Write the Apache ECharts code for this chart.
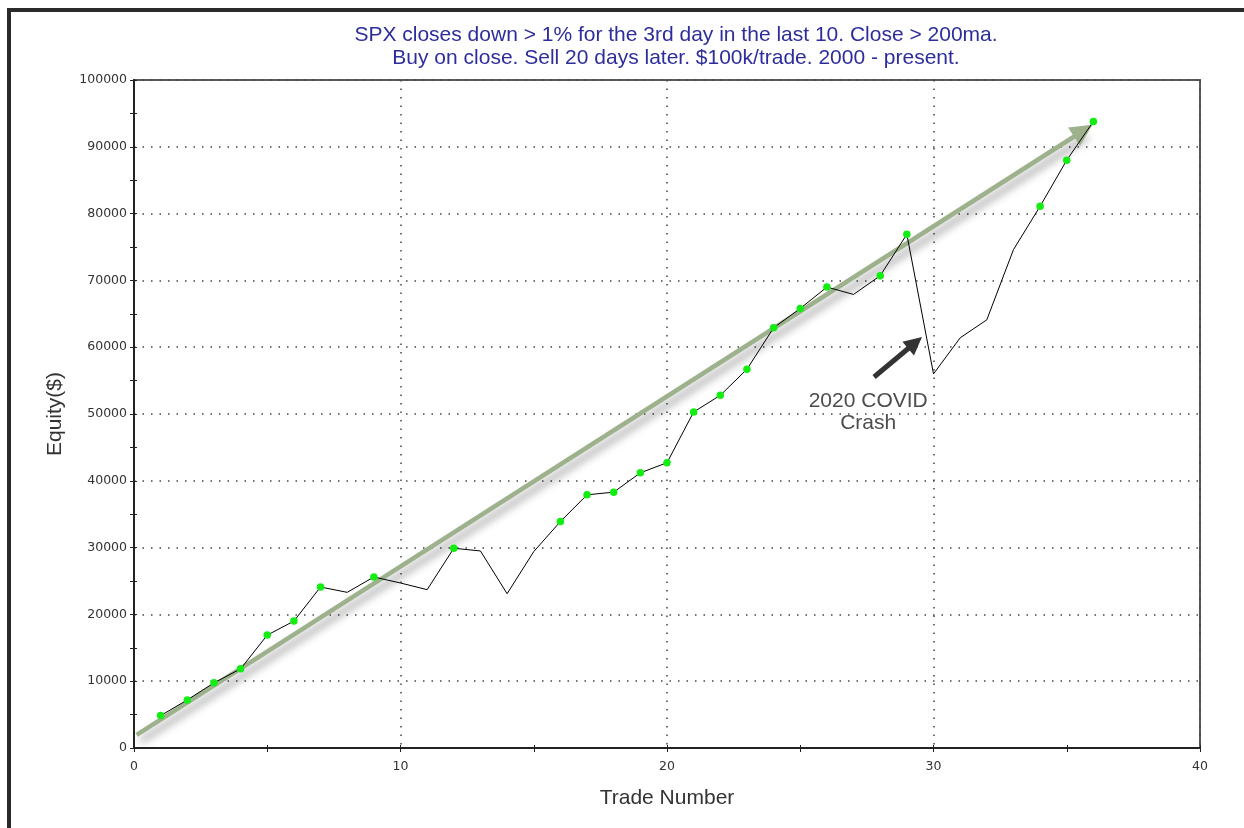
<!DOCTYPE html>
<html>
<head>
<meta charset="utf-8">
<script src="https://cdn.jsdelivr.net/npm/echarts@6/dist/echarts.min.js"></script>
<style>
html,body{margin:0;padding:0;background:#fff;}
#chart{width:1244px;height:828px;}
</style>
</head>
<body>
<div id="chart"></div>
<script>
// ---- data ----
const tradeNumbers = [1,2,3,4,5,6,7,8,9,10,11,12,13,14,15,16,17,18,19,20,21,22,23,24,25,26,27,28,29,30,31,32,33,34,35,36];
const equity = [4850,7200,9750,11850,16900,19000,24100,23300,25600,24700,23700,29900,29500,23100,29400,33900,37900,38300,41200,42700,50300,52800,56700,62900,65800,69000,67900,70700,76900,56000,61400,64100,74600,81100,88000,93800];
const hasDot = [1,1,1,1,1,1,1,0,1,0,0,1,0,0,0,1,1,1,1,1,1,1,1,1,1,1,0,1,1,0,0,0,0,1,1,1];
const titleLines = ['SPX closes down > 1% for the 3rd day in the last 10. Close > 200ma.', 'Buy on close. Sell 20 days later. $100k/trade. 2000 - present.'];
const xAxisName = 'Trade Number';
const yAxisName = 'Equity($)';
// annotation arrows (data coordinates)
const trendArrow = [[0.1, 1950], [35.62, 92400]];
const covidArrow = [[27.77, 55540], [29.31, 60660]];
const covidLabelAt = [27.55, 50200];
const covidLabel = '2020 COVID\nCrash';

const seriesData = tradeNumbers.map((x, i) => ({
  value: [x, equity[i]],
  symbol: hasDot[i] ? 'circle' : 'none'
}));

const tickFont = {fontFamily: 'DejaVu Sans', fontSize: 12.5, color: '#333'};
const gridLine = {show: true, lineStyle: {color: '#444', width: 1.5, type: [1.5, 7]}};

const chart = echarts.init(document.getElementById('chart'), null, {renderer: 'canvas'});
chart.setOption({
  animation: false,
  backgroundColor: '#fff',
  title: {
    text: titleLines.join('\n'),
    left: 676,
    top: 24,
    padding: 0,
    textAlign: 'center',
    textStyle: {fontFamily: 'Liberation Sans', fontSize: 21, fontWeight: 'normal', color: '#2d2d9c', lineHeight: 23}
  },
  grid: {left: 134, right: 44, top: 80, bottom: 80, show: true, borderColor: '#5a5a5a', borderWidth: 2, backgroundColor: 'transparent'},
  xAxis: [{
    type: 'value', min: 0, max: 40, interval: 10, position: 'bottom',
    name: xAxisName, nameLocation: 'middle', nameGap: 40,
    nameTextStyle: {fontFamily: 'Liberation Sans', fontSize: 21, color: '#333'},
    axisLine: {show: true, lineStyle: {color: '#222', width: 2}},
    axisTick: {show: true, length: 4, lineStyle: {color: '#222', width: 1}},
    minorTick: {show: true, splitNumber: 2, length: 4, lineStyle: {color: '#222', width: 1}},
    axisLabel: Object.assign({margin: 12, formatter: v => String(v)}, tickFont),
    splitLine: gridLine
  }, {
    type: 'value', min: 0, max: 40, interval: 10, position: 'bottom',
    axisLine: {show: false},
    axisTick: {show: true, inside: true, length: 3, lineStyle: {color: '#222', width: 1}},
    minorTick: {show: true, splitNumber: 2, length: 3, lineStyle: {color: '#222', width: 1}},
    axisLabel: {show: false}, splitLine: {show: false}
  }],
  yAxis: [{
    type: 'value', min: 0, max: 100000, interval: 10000, position: 'left',
    name: yAxisName, nameLocation: 'middle', nameGap: 68, nameRotate: 90,
    nameTextStyle: {fontFamily: 'Liberation Sans', fontSize: 21, color: '#333'},
    axisLine: {show: true, lineStyle: {color: '#222', width: 2}},
    axisTick: {show: true, length: 4, lineStyle: {color: '#222', width: 1}},
    minorTick: {show: true, splitNumber: 2, length: 4, lineStyle: {color: '#222', width: 1}},
    axisLabel: Object.assign({margin: 7, formatter: v => String(v)}, tickFont),
    splitLine: gridLine
  }, {
    type: 'value', min: 0, max: 100000, interval: 10000, position: 'left',
    axisLine: {show: false},
    axisTick: {show: true, inside: true, length: 3, lineStyle: {color: '#222', width: 1}},
    minorTick: {show: true, splitNumber: 2, length: 3, lineStyle: {color: '#222', width: 1}},
    axisLabel: {show: false}, splitLine: {show: false}
  }],
  series: [{
    type: 'line', name: 'trend', data: [], z: 1, silent: true,
    markLine: {
      silent: true, animation: false, z: 1,
      symbol: ['none', 'triangle'], symbolSize: 22,
      label: {show: false},
      lineStyle: {color: '#9db28c', width: 4.5, type: 'solid', shadowColor: 'rgba(0,0,0,0.4)', shadowBlur: 9, shadowOffsetX: 4, shadowOffsetY: 6},
      itemStyle: {color: '#9db28c'},
      emphasis: {disabled: true},
      data: [[{coord: trendArrow[0]}, {coord: trendArrow[1]}]]
    }
  }, {
    type: 'line', name: 'equity', z: 3, silent: true,
    data: seriesData,
    symbolSize: 7.5,
    itemStyle: {color: '#12ee12'},
    lineStyle: {color: '#000', width: 1},
    showSymbol: true
  }, {
    type: 'line', name: 'covid', data: [], z: 4, silent: true,
    markLine: {
      silent: true, animation: false, z: 6,
      symbol: ['none', 'triangle'], symbolSize: 18,
      label: {show: false},
      lineStyle: {color: '#333', width: 5, type: 'solid'},
      itemStyle: {color: '#333'},
      emphasis: {disabled: true},
      data: [[{coord: covidArrow[0]}, {coord: covidArrow[1]}]]
    },
    markPoint: {
      silent: true, animation: false,
      symbol: 'circle', symbolSize: 0,
      label: {show: true, position: 'inside', formatter: covidLabel, fontFamily: 'Liberation Sans', fontSize: 21, lineHeight: 22, color: '#4d4d4d'},
      itemStyle: {color: 'transparent'},
      data: [{coord: covidLabelAt}]
    }
  }],
  graphic: [
    {type: 'rect', shape: {x: 7, y: 8, width: 4, height: 820}, style: {fill: '#2a2a2a'}, silent: true},
    {type: 'rect', shape: {x: 7, y: 8, width: 1237, height: 4}, style: {fill: '#2a2a2a'}, silent: true}
  ]
});
</script>
</body>
</html>
